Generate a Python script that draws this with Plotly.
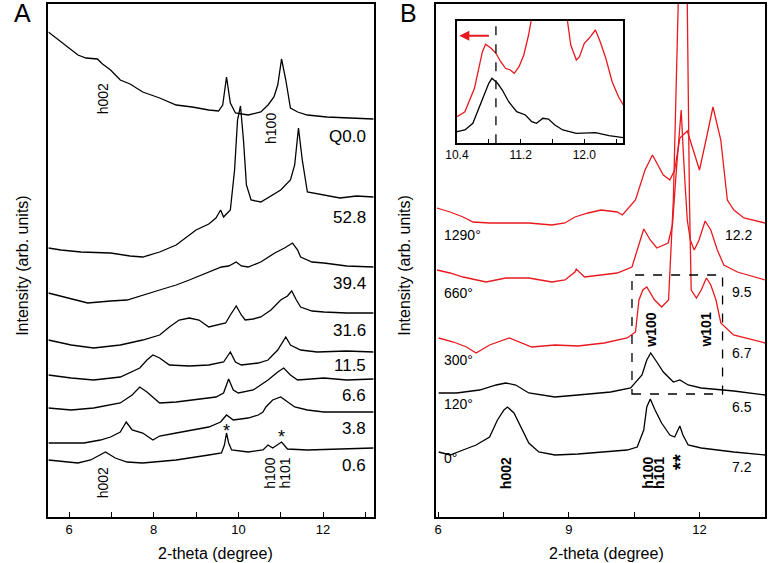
import plotly.graph_objects as go

# ---------------- Panel A data (2-theta in degree, intensity in arb. units) -------------
a_q00_x = [5.51, 5.81, 6.21, 6.40, 6.67, 6.79, 6.98, 7.21, 7.44, 7.74, 8.14, 8.53, 8.91, 9.30, 9.53, 9.63, 9.72, 9.81, 9.93, 10.23, 10.53, 10.70, 10.84, 10.93, 11.02, 11.12, 11.23, 11.40, 11.63, 12.09, 12.56, 13.19]
a_q00_y = [485, 475, 462, 459, 458, 453, 447, 437, 433, 425, 419, 412, 410, 407, 406, 412, 440, 414, 404, 402, 405, 412, 420, 432, 458, 437, 409, 405, 402, 400, 399, 398]

a_528_x = [5.51, 5.81, 6.28, 6.98, 7.44, 7.74, 8.14, 8.53, 9.00, 9.30, 9.47, 9.58, 9.65, 9.81, 9.91, 9.98, 10.05, 10.12, 10.19, 10.30, 10.53, 10.77, 11.00, 11.23, 11.33, 11.42, 11.51, 11.63, 11.86, 12.40, 12.79, 13.19]
a_528_y = [269, 267, 265, 264, 261, 260, 265, 272, 287, 293, 299, 307, 300, 307, 347, 397, 411, 377, 332, 317, 315, 321, 327, 337, 352, 389, 357, 325, 323, 319, 321, 320]

a_394_x = [5.51, 5.81, 6.44, 6.98, 7.37, 8.14, 8.53, 8.84, 9.30, 9.60, 9.77, 9.95, 10.07, 10.23, 10.53, 10.86, 11.09, 11.28, 11.40, 11.47, 11.74, 12.02, 12.56, 13.19]
a_394_y = [224, 221, 214, 216, 217, 227, 232, 237, 245, 250, 251, 255, 251, 250, 255, 264, 269, 274, 267, 260, 255, 254, 251, 250]

a_316_x = [5.51, 6.05, 6.58, 7.21, 7.74, 8.14, 8.37, 8.60, 8.84, 9.07, 9.30, 9.53, 9.70, 9.81, 9.95, 10.07, 10.16, 10.35, 10.53, 10.77, 11.00, 11.16, 11.26, 11.37, 11.47, 11.74, 12.02, 12.56, 13.19]
a_316_y = [177, 172, 169, 172, 177, 182, 190, 197, 199, 197, 190, 192, 194, 202, 211, 202, 197, 198, 200, 207, 217, 221, 226, 217, 210, 206, 205, 204, 204]

a_115_x = [5.51, 6.05, 6.58, 7.21, 7.67, 7.84, 7.98, 8.14, 8.37, 8.84, 9.30, 9.65, 9.81, 9.93, 10.07, 10.47, 10.70, 10.93, 11.12, 11.23, 11.47, 11.86, 12.56, 13.19]
a_115_y = [142, 139, 137, 140, 149, 157, 162, 159, 152, 151, 152, 155, 165, 155, 152, 154, 157, 167, 180, 172, 167, 165, 166, 165]

a_066_x = [5.51, 6.05, 6.58, 7.21, 7.49, 7.67, 7.84, 8.14, 8.53, 8.91, 9.47, 9.65, 9.77, 9.88, 10.00, 10.35, 10.70, 10.93, 11.07, 11.23, 11.40, 12.02, 12.56, 13.19]
a_066_y = [109, 107, 109, 114, 122, 130, 125, 114, 115, 117, 120, 124, 138, 127, 124, 127, 137, 145, 149, 142, 137, 139, 137, 138]

a_038_x = [5.51, 6.35, 6.74, 6.98, 7.21, 7.35, 7.49, 7.74, 7.98, 8.14, 8.53, 9.30, 9.58, 9.72, 9.88, 10.23, 10.47, 10.58, 10.65, 10.81, 11.00, 11.16, 11.33, 11.63, 12.02, 13.19]
a_038_y = [74, 74, 77, 80, 85, 95, 87, 84, 77, 81, 84, 90, 95, 102, 97, 99, 102, 105, 110, 117, 120, 115, 110, 107, 105, 105]

a_006_x = [5.51, 6.21, 6.51, 6.74, 6.86, 7.09, 7.37, 7.74, 8.53, 9.30, 9.60, 9.67, 9.72, 9.77, 9.84, 10.23, 10.58, 10.70, 10.81, 11.02, 11.16, 11.63, 13.19]
a_006_y = [57, 54, 57, 62, 65, 59, 55, 54, 57, 62, 64, 72, 84, 74, 67, 65, 67, 72, 69, 75, 68, 67, 69]

a_series_labels = ["Q0.0", "52.8", "39.4", "31.6", "11.5", "6.6", "3.8", "0.6"]
a_label_y = [380, 299, 234, 187, 152, 122, 89, 52]

# ---------------- Panel B data -------------
b_0_x = [6.01, 6.27, 6.57, 6.87, 7.18, 7.36, 7.51, 7.59, 7.74, 7.89, 8.08, 8.31, 8.68, 9.21, 9.81, 10.34, 10.57, 10.72, 10.79, 10.87, 10.98, 11.13, 11.32, 11.43, 11.55, 11.62, 11.74, 12.04, 12.79, 13.51]
b_0_y = [65, 62, 67, 72, 80, 97, 107, 110, 104, 90, 74, 65, 62, 63, 65, 67, 70, 87, 110, 118, 107, 94, 82, 80, 91, 82, 72, 69, 65, 62]

b_120_x = [6.01, 6.42, 6.95, 7.33, 7.55, 7.78, 8.08, 8.68, 9.21, 9.96, 10.42, 10.68, 10.79, 10.88, 11.02, 11.17, 11.40, 11.55, 11.74, 12.04, 12.79, 13.51]
b_120_y = [124, 124, 127, 132, 134, 132, 124, 120, 122, 125, 129, 142, 157, 164, 155, 145, 135, 137, 132, 129, 126, 122]

b_300_x = [6.01, 6.35, 6.65, 6.87, 7.18, 7.63, 8.15, 8.68, 9.21, 9.81, 10.34, 10.53, 10.61, 10.70, 10.79, 10.97, 11.13, 11.29, 11.40, 11.49, 11.60, 11.72, 11.77, 11.81, 11.93, 12.04, 12.16, 12.26, 12.38, 12.49, 12.78, 13.51]
b_300_y = [179, 175, 170, 164, 172, 179, 170, 172, 171, 174, 179, 185, 217, 227, 230, 217, 210, 217, 317, 513, 667, 513, 317, 227, 219, 227, 239, 232, 217, 194, 182, 174]

b_660_x = [5.97, 6.27, 6.57, 7.10, 7.55, 8.08, 8.61, 8.91, 9.14, 9.17, 9.36, 9.74, 10.11, 10.45, 10.61, 10.72, 10.87, 11.02, 11.28, 11.38, 11.47, 11.58, 11.65, 11.72, 11.79, 11.88, 11.99, 12.13, 12.26, 12.41, 12.56, 12.87, 13.51]
b_660_y = [247, 244, 240, 235, 239, 239, 235, 237, 245, 248, 240, 242, 244, 250, 274, 288, 277, 269, 274, 292, 347, 407, 347, 297, 277, 267, 277, 296, 287, 267, 252, 245, 237]

b_1290_x = [5.97, 6.27, 6.57, 6.80, 7.18, 7.70, 8.08, 8.61, 8.91, 9.14, 9.44, 9.74, 10.11, 10.23, 10.53, 10.75, 10.92, 11.17, 11.32, 11.43, 11.55, 11.72, 11.85, 12.00, 12.15, 12.31, 12.49, 12.64, 12.79, 13.02, 13.51]
b_1290_y = [309, 305, 300, 295, 294, 294, 294, 292, 294, 300, 304, 307, 305, 302, 317, 347, 362, 342, 337, 347, 379, 386, 367, 347, 377, 410, 377, 317, 307, 299, 294]

b_temp_labels = ["1290°", "660°", "300°", "120°", "0°"]
b_temp_y = [282, 224, 157, 113, 59]
b_value_labels = ["12.2", "9.5", "6.7", "6.5", "7.2"]
b_value_y = [282, 225, 164, 110, 50]

# ---------------- Inset data -------------
i_red_x = [10.40, 10.50, 10.62, 10.68, 10.72, 10.76, 10.83, 10.89, 10.95, 11.01, 11.07, 11.12, 11.18, 11.24, 11.30, 11.33, 11.36, 11.76, 11.79, 11.83, 11.90, 11.94, 12.00, 12.06, 12.14, 12.20, 12.27, 12.35, 12.43, 12.49]
i_red_y = [26.6, 31.6, 55, 78.3, 91.6, 99, 95, 90, 81.6, 75, 73.3, 70, 76.6, 88.3, 108.3, 121.6, 163, 163, 121.6, 98.3, 83.3, 86.6, 100, 105, 113.3, 101.6, 85, 61.6, 46.6, 38.3]
i_blk_x = [10.40, 10.50, 10.60, 10.66, 10.74, 10.80, 10.84, 10.91, 10.97, 11.05, 11.15, 11.26, 11.34, 11.40, 11.48, 11.55, 11.63, 11.73, 11.90, 12.14, 12.31, 12.49]
i_blk_y = [11.6, 13.3, 20, 31.6, 48.3, 60, 65, 60, 53.3, 41.6, 31.6, 28.3, 21.6, 20, 25, 24.3, 18.3, 13.3, 10, 10.6, 7.6, 5.6]

RED = "#e8191e"
BLK = "#000000"
FONT = "Liberation Sans, Arial, sans-serif"

fig = go.Figure()


def add(x, y, color, xa, ya, w=1.3):
    fig.add_trace(go.Scatter(x=x, y=y, mode="lines", line=dict(color=color, width=w),
                             xaxis=xa, yaxis=ya, showlegend=False, hoverinfo="skip"))


for xs, ys in [(a_q00_x, a_q00_y), (a_528_x, a_528_y), (a_394_x, a_394_y), (a_316_x, a_316_y),
               (a_115_x, a_115_y), (a_066_x, a_066_y), (a_038_x, a_038_y), (a_006_x, a_006_y)]:
    add(xs, ys, BLK, "x", "y")

for xs, ys, c in [(b_1290_x, b_1290_y, RED), (b_660_x, b_660_y, RED), (b_300_x, b_300_y, RED),
                  (b_120_x, b_120_y, BLK), (b_0_x, b_0_y, BLK)]:
    add(xs, ys, c, "x2", "y2")

add(i_red_x, i_red_y, RED, "x3", "y3")
add(i_blk_x, i_blk_y, BLK, "x3", "y3")

W, H = 768, 563


def px(v):
    return v / W


def py(v):
    return 1 - v / H


axis_common = dict(showline=True, mirror=True, linecolor="black", linewidth=1.5,
                   showgrid=False, zeroline=False)

xt = dict(ticks="inside", ticklen=5, tickwidth=1, tickcolor="black",
          tickfont=dict(family=FONT, size=13, color="black"))

layout = dict(
    width=W, height=H, margin=dict(l=0, r=0, t=0, b=0),
    paper_bgcolor="white", plot_bgcolor="white",
    font=dict(family=FONT, color="black"),
    xaxis=dict(domain=[px(37), px(368)], range=[5.512, 13.21], anchor="y",
               tick0=6, dtick=2, minor=dict(ticks="inside", ticklen=5, tick0=6, dtick=1, tickcolor="black"),
               **xt, **axis_common),
    yaxis=dict(domain=[py(517), py(4)], range=[0, 513], anchor="x", showticklabels=False,
               ticks="", **axis_common),
    xaxis2=dict(domain=[px(431), px(765)], range=[5.955, 13.506], anchor="y2",
                tick0=0, dtick=3, minor=dict(ticks="inside", ticklen=5, tick0=0, dtick=1.5, tickcolor="black"),
                **xt, **axis_common),
    yaxis2=dict(domain=[py(517), py(4)], range=[0, 513], anchor="x2", showticklabels=False,
                ticks="", **axis_common),
    xaxis3=dict(domain=[px(452), px(621)], range=[10.4, 12.49], anchor="y3",
                tick0=10.4, dtick=0.8, tickformat=".1f",
                minor=dict(ticks="inside", ticklen=5, tick0=10.4, dtick=0.4, tickcolor="black"),
                ticks="inside", ticklen=5, tickwidth=1, tickcolor="black",
                tickfont=dict(family=FONT, size=12, color="black"), **axis_common),
    yaxis3=dict(domain=[py(143.3), py(21)], range=[0, 122.3], anchor="x3", showticklabels=False,
                ticks="", **axis_common),
)
fig.update_layout(**layout)

ann = []


def txt(text, x, y, xref, yref, size, angle=0, xanchor="center", yanchor="middle", bold=False, color="black"):
    ann.append(dict(text=text, x=x, y=y, xref=xref, yref=yref, showarrow=False, textangle=angle,
                    xanchor=xanchor, yanchor=yanchor,
                    font=dict(family=FONT, size=size, color=color,
                              weight="bold" if bold else "normal")))


# Panel A labels
for lab, yy in zip(a_series_labels, a_label_y):
    txt(lab, 13.06, yy, "x", "y", 17, xanchor="right")
txt("h002", 6.81, 418, "x", "y", 14, angle=-90)
txt("h100", 10.77, 389, "x", "y", 14, angle=-90)
txt("h002", 6.81, 34, "x", "y", 14, angle=-90)
txt("h100", 10.74, 44, "x", "y", 14, angle=-90)
txt("h101", 11.09, 44, "x", "y", 14, angle=-90)
txt("*", 9.72, 86, "x", "y", 18)
txt("*", 11.02, 80, "x", "y", 18)

# Panel B labels
for lab, yy in zip(b_temp_labels, b_temp_y):
    txt(lab, 6.09, yy, "x2", "y2", 14, xanchor="left")
for lab, yy in zip(b_value_labels, b_value_y):
    txt(lab, 13.26, yy, "x2", "y2", 14, xanchor="right")
txt("w100", 10.88, 187, "x2", "y2", 14, angle=-90, bold=True)
txt("w101", 12.14, 187, "x2", "y2", 14, angle=-90, bold=True)
txt("h002", 7.56, 44, "x2", "y2", 14, angle=-90, bold=True)
txt("h100", 10.81, 44, "x2", "y2", 14, angle=-90, bold=True)
txt("h101", 11.07, 44, "x2", "y2", 14, angle=-90, bold=True)
txt("**", 11.55, 55, "x2", "y2", 20, angle=-90, bold=True)

# Panel letters and axis titles
txt("A", px(11), py(13), "paper", "paper", 25)
txt("B", px(403), py(13), "paper", "paper", 25)
txt("2-theta (degree)", px(207), py(553), "paper", "paper", 16)
txt("2-theta (degree)", px(604), py(553), "paper", "paper", 16)
txt("Intensity (arb. units)", px(11), py(265), "paper", "paper", 16, angle=-90)
txt("Intensity (arb. units)", px(399), py(265), "paper", "paper", 16, angle=-90)

# Inset arrow
ann.append(dict(x=10.43, y=107.6, ax=10.82, ay=107.6, xref="x3", yref="y3", axref="x3", ayref="y3",
                showarrow=True, arrowhead=2, arrowsize=1, arrowwidth=2, arrowcolor=RED, text=""))

fig.update_layout(annotations=ann)

fig.update_layout(shapes=[
    dict(type="rect", xref="x2", yref="y2", x0=10.45, x1=12.53, y0=123, y1=242,
         line=dict(color="black", width=1.3, dash="dash")),
    dict(type="line", xref="x3", yref="y3", x0=10.89, x1=10.89, y0=0, y1=122.3,
         line=dict(color="black", width=1.3, dash="dash")),
])

fig.write_html("out.html", config={"displayModeBar": False},
               post_script="document.body.style.margin='0';document.body.style.overflow='hidden';")
